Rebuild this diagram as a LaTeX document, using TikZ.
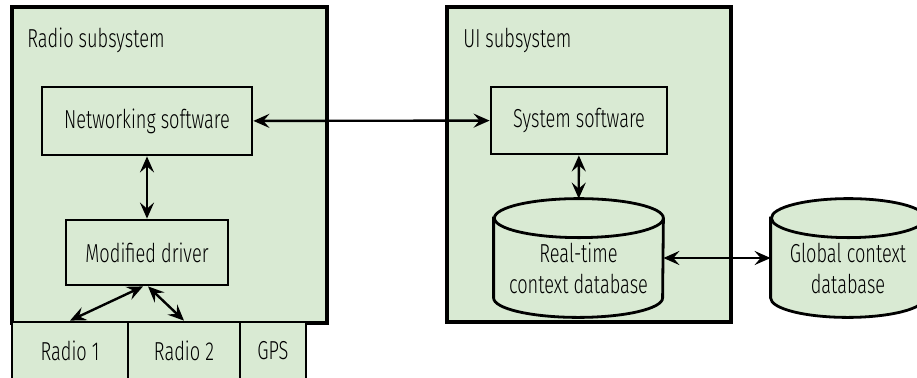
\documentclass[tikz,border=0pt]{standalone}
\usepackage{fontspec}
\setmainfont{Fira Sans}[UprightFont={* Light}, FakeStretch=0.7]
\usepackage{tikz}
\usetikzlibrary{positioning,arrows.meta}
\definecolor{boxfill}{HTML}{D9EAD3}

\begin{document}
\begin{tikzpicture}[
  x=0.5pt, y=-0.5pt,
  font=\fontsize{13}{15.5}\selectfont,
  subsys/.style={draw, line width=1.6pt, fill=boxfill, inner sep=0pt},
  block/.style={
    draw, line width=1.4pt, fill=boxfill, inner sep=0pt, align=center
  },
  dbnode/.style={minimum height=59pt, inner sep=0pt},
  dbline/.style={draw, line width=1.4pt, fill=boxfill},
  dbtext/.style={inner sep=0pt, align=center},
  lbl/.style={anchor=base west, inner sep=0pt},
  arr/.style={<->, >={Stealth[length=8pt,width=7pt,inset=3pt]}, line width=1.2pt}
]
  \useasboundingbox (0,0) rectangle (917,377);

  % subsystems
  \node[subsys, minimum width=157.5pt, minimum height=158pt] (radio) at (169.5,165) {};
  \node[lbl] (radiolbl) at (27,47) {Radio subsystem};
  \node[subsys, minimum width=142pt, minimum height=157.5pt] (ui) at (589,164.5) {};
  \node[lbl] (uilbl) at (463,47) {UI subsystem};

  % radio side
  \node[block, minimum width=105pt, minimum height=34pt] (net) at (147,121) {Networking software};
  \node[block, minimum width=81pt, minimum height=32.5pt] (drv) at (147,252.5) {Modified driver};
  \node[block, minimum width=58pt, minimum height=29pt] (radioa) at (70,351) {Radio 1};
  \node[block, minimum width=56pt, minimum height=29pt] (radiob) at (184,351) {Radio 2};
  \node[block, minimum width=33pt, minimum height=29pt] (gps) at (273,351) {GPS};

  % ui side
  \node[block, minimum width=88pt, minimum height=33.5pt] (sys) at (579,120.5) {System software};

  % databases
  \node[dbnode, minimum width=84.5pt] (rtdb) at (578.5,258) {};
  \filldraw[dbline] ([yshift=-9.75pt]rtdb.north west) -- ([yshift=9.75pt]rtdb.south west)
    arc[start angle=180, end angle=360, x radius=42.25pt, y radius=9.75pt]
    -- ([yshift=-9.75pt]rtdb.north east)
    arc[start angle=0, end angle=180, x radius=42.25pt, y radius=9.75pt] -- cycle;
  \draw[dbline, fill=none] ([yshift=-9.75pt]rtdb.north east)
    arc[start angle=0, end angle=-180, x radius=42.25pt, y radius=9.75pt];
  \node[dbtext] (rtdbtxt) at ([yshift=-5pt]rtdb.center) {Real-time\\context database};

  \node[dbnode, minimum width=77pt] (gdb) at (848,258) {};
  \filldraw[dbline] ([yshift=-9.75pt]gdb.north west) -- ([yshift=9.75pt]gdb.south west)
    arc[start angle=180, end angle=360, x radius=38.5pt, y radius=9.75pt]
    -- ([yshift=-9.75pt]gdb.north east)
    arc[start angle=0, end angle=180, x radius=38.5pt, y radius=9.75pt] -- cycle;
  \draw[dbline, fill=none] ([yshift=-9.75pt]gdb.north east)
    arc[start angle=0, end angle=-180, x radius=38.5pt, y radius=9.75pt];
  \node[dbtext] (gdbtxt) at ([yshift=-5pt]gdb.center) {Global context\\database};

  % connectors
  \draw[arr] (net) -- (sys);
  \draw[arr] (net) -- (drv);
  \draw[arr] ([xshift=-2pt]drv.south) -- (radioa.north);
  \draw[arr] ([xshift=0.5pt]drv.south) -- (radiob.north);
  \draw[arr] (sys) -- (rtdb);
  \draw[arr] (rtdb) -- (gdb);
\end{tikzpicture}
\end{document}
